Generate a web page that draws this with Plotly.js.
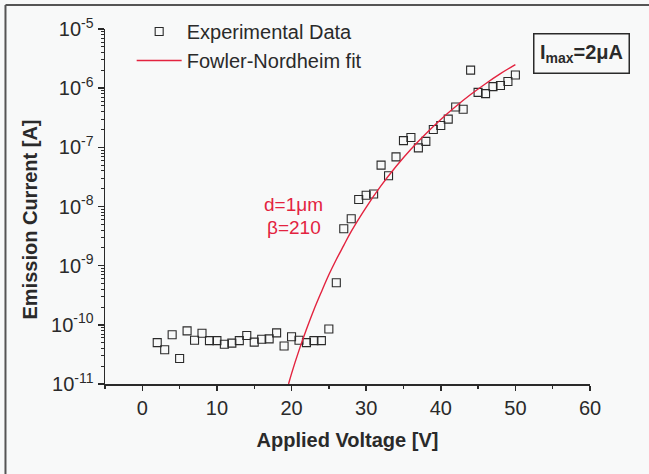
<!DOCTYPE html>
<html>
<head>
<meta charset="utf-8">
<script src="https://cdn.plot.ly/plotly-3.0.1.min.js"></script>
<style>html,body{margin:0;padding:0;background:#f8f9f9;}#chart{width:649px;height:474px;}</style>
</head>
<body>
<div id="chart"></div>
<script>
const expVoltage = [2,3,4,5,6,7,8,9,10,11,12,13,14,15,16,17,18,19,20,21,22,23,24,25,
  26,27,28,29,30,31,32,33,34,35,36,37,38,39,40,41,42,43,44,45,46,47,48,49,50];
const expCurrent = [5.0e-11,3.8e-11,6.8e-11,2.7e-11,7.9e-11,5.5e-11,7.2e-11,5.4e-11,5.4e-11,4.7e-11,
  4.9e-11,5.4e-11,6.6e-11,5.1e-11,5.7e-11,5.8e-11,7.3e-11,4.4e-11,6.3e-11,5.5e-11,5.0e-11,5.4e-11,
  5.4e-11,8.5e-11,
  5.15e-10,4.2e-9,6.2e-9,1.31e-8,1.55e-8,1.63e-8,5.0e-8,3.3e-8,6.9e-8,1.30e-7,1.47e-7,9.8e-8,
  1.26e-7,2.0e-7,2.34e-7,3.0e-7,4.8e-7,4.4e-7,2.02e-6,8.5e-7,8.1e-7,1.06e-6,1.11e-6,1.30e-6,1.67e-6];

// Fowler-Nordheim fit curve
const fitVoltage = [19.6,20,21,22,23,24,25,26,27,28,30,32,34,36,38,40,42,44,46,48,50];
const fitCurrent = [1.0e-11,1.5e-11,3.7e-11,8.4e-11,1.8e-10,3.6e-10,7.0e-10,1.27e-9,2.2e-9,3.8e-9,
  9.7e-9,2.25e-8,4.75e-8,9.3e-8,1.7e-7,2.96e-7,4.9e-7,7.8e-7,1.19e-6,1.76e-6,2.5e-6];

// Axis ticks
const xTicks = [0,10,20,30,40,50,60];
const yTickVals = [1e-11,1e-10,1e-9,1e-8,1e-7,1e-6,1e-5];
const yTickText = ['10<sup>-11</sup>','10<sup>-10</sup>','10<sup>-9</sup>','10<sup>-8</sup>',
  '10<sup>-7</sup>','10<sup>-6</sup>','10<sup>-5</sup>'];

const FONT = 'Liberation Sans, Arial, sans-serif';
const RED = '#e3233f';
const INK = '#2a2a2a';

const traces = [
  {
    x: expVoltage, y: expCurrent, type: 'scatter', mode: 'markers',
    name: 'Experimental Data',
    marker: {symbol: 'square-open', size: 8, color: INK, line: {color: INK, width: 1.1}},
    cliponaxis: false
  },
  {
    x: fitVoltage, y: fitCurrent, type: 'scatter', mode: 'lines',
    name: 'Fowler-Nordheim fit',
    line: {color: RED, width: 1.4, shape: 'spline'}
  }
];

const layout = {
  width: 649, height: 474,
  margin: {l: 105, r: 59, t: 29, b: 90},
  paper_bgcolor: '#f8f9f9', plot_bgcolor: '#f8f9f9',
  font: {family: FONT, color: INK, size: 19},
  showlegend: true,
  legend: {
    x: 0.055, y: 1.048, xanchor: 'left', yanchor: 'top',
    bgcolor: 'rgba(0,0,0,0)', font: {size: 20, family: FONT, color: INK},
    itemwidth: 45, tracegroupgap: 0
  },
  xaxis: {
    range: [-5, 60], tickvals: xTicks, ticks: 'outside', ticklen: 5, tickwidth: 1.5,
    tickcolor: INK, showline: true, linecolor: INK, linewidth: 1.5, showgrid: false,
    zeroline: false, mirror: false,
    tickfont: {size: 20, family: FONT, color: INK},
    minor: {dtick: 5, ticks: 'outside', ticklen: 3, tickwidth: 1.3, tickcolor: INK, showgrid: false},
    title: {text: '<b>Applied Voltage [V]</b>', font: {size: 20, family: FONT, color: INK}, standoff: 15}
  },
  yaxis: {
    type: 'log', range: [-11, -5], tickvals: yTickVals, ticktext: yTickText,
    ticks: 'outside', ticklen: 6, tickwidth: 1.5, tickcolor: INK,
    showline: true, linecolor: INK, linewidth: 1.5, showgrid: false, zeroline: false,
    tickfont: {size: 20, family: FONT, color: INK},
    minor: {dtick: 'D1', ticks: 'outside', ticklen: 3, tickwidth: 1, tickcolor: INK, showgrid: false}
  },
  annotations: [
    {xref: 'paper', yref: 'paper', x: -0.1546, y: 0.4634, xanchor: 'center', yanchor: 'middle',
     textangle: -90, showarrow: false, text: '<b>Emission Current [A]</b>',
     font: {size: 20, family: FONT, color: INK}},
    {xref: 'x', yref: 'y', x: 20.3, y: -7.973, showarrow: false, text: 'd=1μm',
     xanchor: 'center', yanchor: 'middle', font: {size: 19, family: FONT, color: RED}},
    {xref: 'x', yref: 'y', x: 20.3, y: -8.357, showarrow: false, text: 'β=210',
     xanchor: 'center', yanchor: 'middle', font: {size: 19, family: FONT, color: RED}},
    {xref: 'paper', yref: 'paper', x: 0.9825, y: 0.93, xanchor: 'center', yanchor: 'middle',
     showarrow: false, text: '<b>I<sub>max</sub>=2μA</b>',
     font: {size: 20, family: FONT, color: INK},
     bordercolor: INK, borderwidth: 1.5, borderpad: 0, width: 94, height: 38}
  ],
  shapes: [
    {type: 'line', xref: 'paper', yref: 'paper', x0: -0.2052, x1: -0.2052, y0: -0.26, y1: 1.0676,
     line: {color: '#555', width: 2}},
    {type: 'line', xref: 'paper', yref: 'paper', x0: -0.2052, x1: 1.13, y0: 1.0676, y1: 1.0676,
     line: {color: '#555', width: 2}}
  ]
};

Plotly.newPlot('chart', traces, layout, {displayModeBar: false, staticPlot: true});
</script>
</body>
</html>
